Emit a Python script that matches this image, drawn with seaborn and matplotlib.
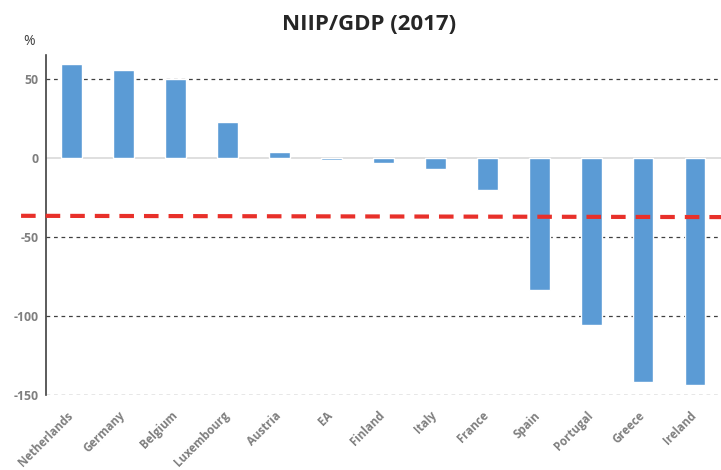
import pandas as pd
import seaborn as sns
import matplotlib.pyplot as plt
import matplotlib.transforms as mtransforms

# Dados do gráfico
paises: list = ['Netherlands', 'Germany', 'Belgium', 'Luxembourg', 'Austria',
                'EA', 'Finland', 'Italy', 'France', 'Spain', 'Portugal',
                'Greece', 'Ireland']
niip_pib: list = [59.5, 55.7, 49.8, 22.8, 3.8, -1.5, -3.0, -7.4, -20.3,
                  -83.5, -106.0, -141.8, -143.5]
linha_ref: list = [-36.7, -37.5]
ticks_y: list = [50, 0, -50, -100, -150]

dados = pd.DataFrame({'pais': paises, 'valor': niip_pib})

sns.set_theme(style='white')
plt.rcParams['font.family'] = ['Open Sans', 'DejaVu Sans']

fig = plt.figure(figsize=(7.21, 4.70), dpi=100)
ax = fig.add_axes([0.0634, 0.1596, 0.9366, 0.7234])

sns.barplot(data=dados, x='pais', y='valor', color='#5B9BD5',
            saturation=1, width=0.4, ax=ax)

ax.set_xlim(-0.5, 12.5)
ax.set_ylim(-150, 65)
ax.set_yticks(ticks_y)
ax.set_yticklabels([str(t) for t in ticks_y])

# Grades tracejadas
for t in ticks_y:
    if t != 0:
        ax.axhline(t, color='#404040', lw=0.9, ls=(0, (3, 3)), zorder=0)
ax.axhline(0, color='#d9d9d9', lw=1.2, zorder=0)

# Linha de referência vermelha
trans = mtransforms.blended_transform_factory(ax.transAxes, ax.transData)
ax.plot([-0.0365, 1.0], linha_ref, transform=trans, color='#E8302A',
        lw=3, ls=(0, (3.5, 2.4)), clip_on=False, zorder=5)

for lado in ['top', 'right', 'bottom']:
    ax.spines[lado].set_visible(False)
ax.spines['left'].set_color('#404040')
ax.spines['left'].set_linewidth(1.2)

ax.set_xlabel('')
ax.set_ylabel('')
ax.tick_params(axis='y', length=0, pad=5, labelsize=8.8,
               labelcolor='#7f7f7f')
ax.tick_params(axis='x', length=0, pad=10, labelsize=8.3,
               labelcolor='#7f7f7f')
for rotulo in ax.get_yticklabels():
    rotulo.set_fontweight('bold')
deslocamento = mtransforms.ScaledTranslation(-0.05, 0, fig.dpi_scale_trans)
for rotulo in ax.get_xticklabels():
    rotulo.set_transform(rotulo.get_transform() + deslocamento)
plt.setp(ax.get_xticklabels(), rotation=45, ha='right', va='top',
         rotation_mode='anchor', fontweight='bold')

fig.suptitle('NIIP/GDP (2017)', x=0.512, y=0.97, fontsize=16,
             fontweight='bold', color='#262626')
fig.text(0.04, 0.905, '%', fontsize=10, color='#404040', ha='center')

fig.savefig('out.png', dpi=100)
